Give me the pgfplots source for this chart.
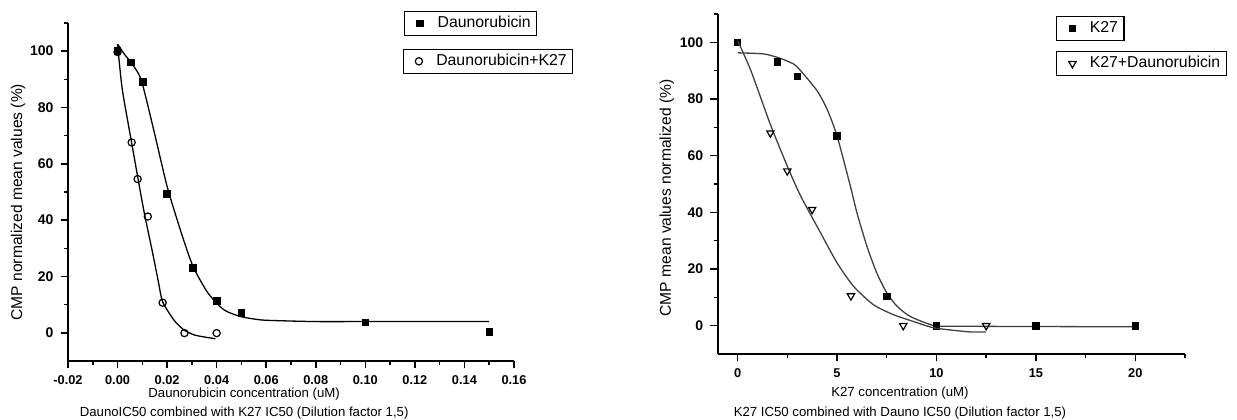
\documentclass[border=0pt]{standalone}
\usepackage{fontspec}
\setmainfont{Liberation Sans}
\usepackage{pgfplots}
\pgfplotsset{compat=1.18}

\pgfplotsset{
  origin/.style={
    scale only axis, clip=false,
    axis lines=left, axis line style={-, line width=0.85pt},
    tick align=outside, major tick length=3.7pt, minor tick length=2pt,
    every tick/.style={line width=0.75pt, black},
    xticklabel style={font=\bfseries\fontsize{6.4}{7}\selectfont},
    yticklabel style={font=\bfseries\fontsize{7}{8}\selectfont},
    /pgf/number format/assume math mode=true,
    ymin=-10, ymax=110, ytick={0,20,40,60,80,100}, minor ytick={10,30,50,70,90,110},
    xlabel style={font=\fontsize{6.6}{9.8}\selectfont, align=center, anchor=north, inner sep=0pt},
    ylabel style={font=\fontsize{7.8}{9}\selectfont, anchor=center},
  },
  hidden/.style={scale only axis, clip=false, hide axis, ymin=-10, ymax=110},
  box legend/.style={
    legend style={draw=black, line width=0.6pt, inner xsep=1pt, inner ysep=0.4pt,
      anchor=north west, legend cell align=left,
      nodes={font=\fontsize{7.9}{9}\selectfont}},
  },
  % mark-only legend symbol with room around it, as in the boxed Origin legends
  boxed mark/.style={only marks,
    legend image code/.code={%
      \path (0pt,0pt) (13pt,0pt);
      \draw[##1] plot coordinates {(6.6pt,0pt)};}},
}

\begin{document}
\begin{tikzpicture}
\useasboundingbox (0,0) rectangle (618.5pt,-209.5pt);

% ---------------- left panel ----------------
\begin{axis}[origin, box legend, at={(34pt,-180.5pt)}, anchor=south west,
  width=223pt, height=169pt, xmin=-0.02, xmax=0.16,
  xtick={-0.02,0,0.02,0.04,0.06,0.08,0.10,0.12,0.14,0.16},
  minor xtick={-0.01,0.01,0.03,0.05,0.07,0.09,0.11,0.13,0.15},
  xticklabel style={/pgf/number format/.cd, fixed, fixed zerofill, precision=2},
  scaled x ticks=false,
  xlabel={Daunorubicin concentration (uM)\\DaunoIC50 combined with K27 IC50 (Dilution factor 1,5)},
  xlabel style={at={(axis description cs:0.395,-0.078)}},
  ylabel={CMP normalized mean values (\%)},
  ylabel style={at={(axis description cs:-0.112,0.47)}},
  legend style={at={(axis description cs:0.753,1.036)}}]
\addplot[black, line width=0.65pt, smooth, tension=0.4, forget plot] coordinates {
  (0,102.5) (0.0027,99) (0.0054,96) (0.0095,89.9) (0.0149,70.9) (0.02,52)
  (0.0258,35.3) (0.0305,23.5) (0.0366,14) (0.0429,8.2) (0.0496,5.8)
  (0.0577,4.6) (0.0657,4.3) (0.08,4.0) (0.10,4.0) (0.15,4.0)};
\addplot[boxed mark, mark=square*, mark size=1.65pt, black] coordinates {
  (0,100) (0.0053,96) (0.0102,89) (0.02,49.4) (0.0303,23) (0.04,11.3)
  (0.05,7) (0.10,3.7) (0.15,0.3)};
\legend{Daunorubicin}
\end{axis}
\begin{axis}[hidden, box legend, at={(34pt,-180.5pt)}, anchor=south west,
  width=223pt, height=169pt, xmin=-0.02, xmax=0.16,
  legend style={at={(axis description cs:0.75,0.924)}}]
\addplot[black, line width=0.65pt, smooth, tension=0.4, forget plot] coordinates {
  (0,102.5) (0.0019,86.5) (0.0057,67.4) (0.0081,55.5) (0.0108,42.5)
  (0.0142,28.2) (0.0165,18) (0.0182,11) (0.0227,4.6) (0.0267,1.1)
  (0.0308,-0.7) (0.0352,-1.5) (0.0395,-2.1)};
\addplot[boxed mark, mark=o, mark size=1.8pt, black, mark options={fill=white, line width=0.6pt}] coordinates {
  (0,99.7) (0.0057,67.6) (0.0081,54.6) (0.0122,41.3) (0.0182,10.7)
  (0.027,-0.1) (0.04,-0.1)};
\legend{Daunorubicin+K27}
\end{axis}

% ---------------- right panel ----------------
\begin{axis}[origin, box legend, at={(358.85pt,-177pt)}, anchor=south west,
  width=233.65pt, height=170pt, xmin=-1, xmax=22.5,
  xtick={0,5,10,15,20}, minor xtick={2.5,7.5,12.5,17.5,22.5},
  xlabel={K27 concentration (uM)\\K27 IC50 combined with Dauno IC50 (Dilution factor 1,5)},
  xlabel style={at={(axis description cs:0.39,-0.097)}},
  ylabel={CMP mean values normalized (\%)},
  ylabel style={at={(axis description cs:-0.109,0.459)}},
  legend style={at={(axis description cs:0.724,0.994)}}]
\addplot[black!75, line width=0.65pt, smooth, tension=0.4, forget plot] coordinates {
  (0,96.3) (1.33,95.9) (2.17,94.3) (2.83,92.3) (3.17,90) (4.0,82.9) (4.5,76.4)
  (5.0,67) (5.67,49.3) (6.0,39.9) (6.5,28.1) (7.0,18.6) (7.5,11.6) (8.0,7)
  (8.67,3.3) (9.9,0) (11.2,-0.2) (15,-0.3) (20,-0.4)};
\addplot[boxed mark, mark=square*, mark size=1.65pt, black] coordinates {
  (0,100) (2,93) (3,88) (5,67) (7.5,10.4) (10,0) (15,0) (20,0)};
\legend{K27}
\end{axis}
\begin{axis}[hidden, box legend, at={(358.85pt,-177pt)}, anchor=south west,
  width=233.65pt, height=170pt, xmin=-1, xmax=22.5,
  legend style={at={(axis description cs:0.724,0.891)}}]
\addplot[black!75, line width=0.65pt, smooth, tension=0.4, forget plot] coordinates {
  (0,100.6) (0.67,90) (1.65,71) (2.53,55.8) (3.17,45.8) (4.17,32.8) (5.0,22.2)
  (5.83,13.9) (6.83,7.4) (7.83,3.9) (8.83,1.5) (9.9,-0.8) (11.67,-2.2) (12.5,-2.2)};
\addplot[boxed mark, mark=triangle, mark size=2.1pt, black,
  mark options={rotate=180, fill=white, line width=0.6pt}] coordinates {
  (1.65,68) (2.5,54.6) (3.75,41) (5.7,10.5) (8.33,0) (12.5,0)};
\legend{K27+Daunorubicin}
\end{axis}
\end{tikzpicture}
\end{document}
